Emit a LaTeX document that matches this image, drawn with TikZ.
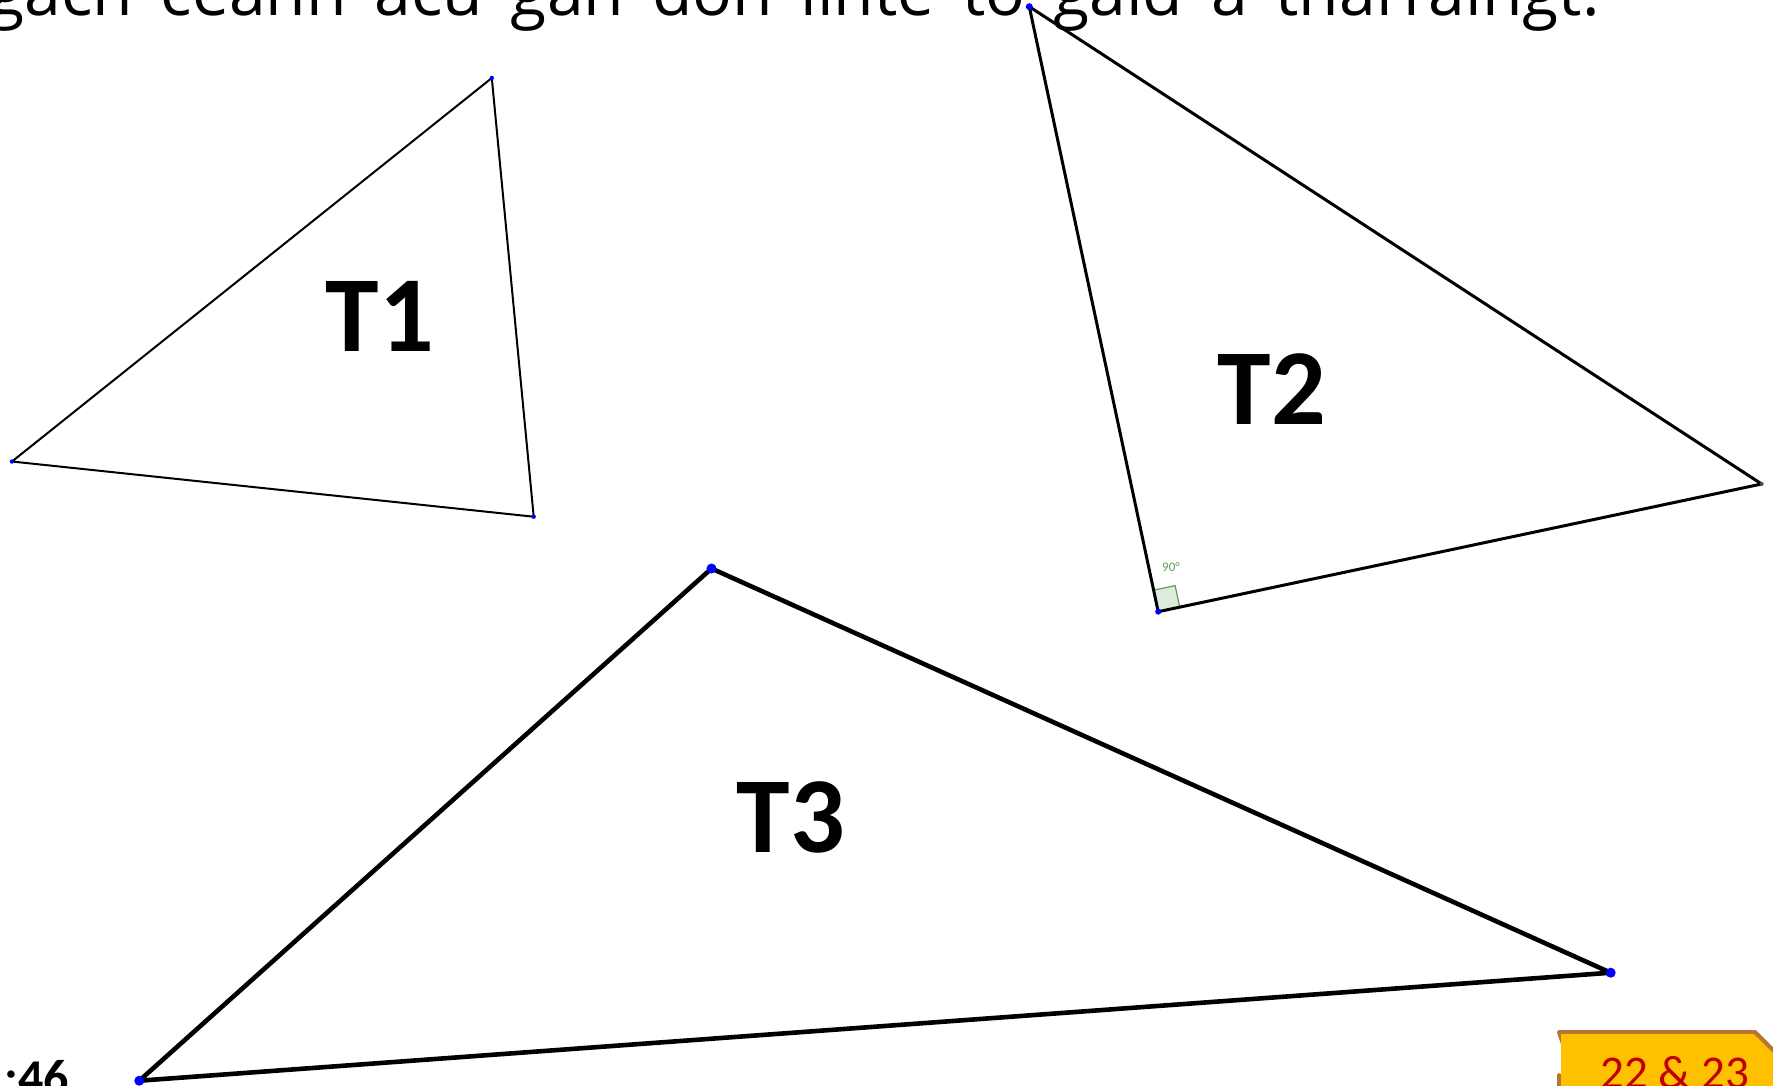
\documentclass[tikz,border=0pt]{standalone}
\usepackage{fontspec}
\setmainfont{Carlito}
\newfontfamily\topfont{Open Sans}
\usetikzlibrary{calc}
\definecolor{vtxblue}{RGB}{0,0,255}
\definecolor{anggreen}{RGB}{90,160,90}
\definecolor{angfill}{RGB}{222,236,222}
\definecolor{badgefill}{RGB}{255,192,0}
\definecolor{badgeedge}{RGB}{185,115,50}
\definecolor{badgetext}{RGB}{192,0,0}
\tikzset{
  tri/.style={draw=black,line join=round},
  vdot/.style={fill=vtxblue},
  tlabel/.style={font=\bfseries\fontsize{108}{108}\selectfont,inner sep=0pt},
}
\begin{document}
\begin{tikzpicture}[x=1pt,y=-1pt]
\useasboundingbox (0,0) rectangle (1773,1085);
\clip (0,0) rectangle (1773,1085);
\fill[white] (0,0) rectangle (1773,1085);
% top text (clipped)
\node[anchor=base west,inner sep=0pt,font=\topfont\fontsize{66}{66}\selectfont] (toptext) at (-12,15) {\spaceskip=0.42em plus 0.1em gach ceann acu gan don línte to gaid a tharraingt.};
% T1
\coordinate (t1a) at (491.8,78);
\coordinate (t1b) at (12,461.5);
\coordinate (t1c) at (533.7,516.7);
\draw[tri,line width=2pt] (t1a) -- (t1b) -- (t1c) -- cycle;
\foreach \p in {t1a,t1b,t1c} \fill[vdot] (\p) circle (2.2);
\node[tlabel,anchor=base] (lab1) at (380,351.6) {T1};
% T2
\coordinate (t2a) at (1029.3,6.7);
\coordinate (t2b) at (1158.2,611.7);
\coordinate (t2c) at (1761.6,484);
\coordinate (sq1) at ($(t2b)!22pt!(t2a)$);
\coordinate (sq3) at ($(t2b)!22pt!(t2c)$);
\coordinate (sq2) at ($(sq1)+(sq3)-(t2b)$);
\filldraw[fill=angfill,draw=anggreen,line width=1.2pt] (t2b) -- (sq1) -- (sq2) -- (sq3) -- cycle;
\node[text=anggreen,font=\fontsize{13}{13}\selectfont,inner sep=0pt] (ang) at (1171,567) {90°};
\draw[tri,line width=3pt] (t2a) -- (t2b) -- (t2c) -- cycle;
\fill[vdot] (t2a) circle (3.5);
\fill[vdot] (t2b) circle (3);
\fill[black!70] (t2c) circle (2);
\node[tlabel,anchor=base] (lab2) at (1272,424) {T2};
% T3
\coordinate (t3a) at (711.5,568.5);
\coordinate (t3b) at (139.3,1080.7);
\coordinate (t3c) at (1610.7,972.7);
\draw[tri,line width=4.6pt] (t3a) -- (t3b) -- (t3c) -- cycle;
\foreach \p in {t3a,t3b,t3c} \fill[vdot] (\p) circle (5);
\node[tlabel,anchor=base] (lab3) at (791,852.6) {T3};
% bottom left time
\node[anchor=base east,inner sep=0pt,font=\bfseries\fontsize{50}{50}\selectfont] (time) at (69,1094) {1:46};
% badge
\filldraw[fill=badgefill,draw=badgeedge,line width=4pt,line join=round]
  (1559,1032) -- (1755,1032) -- (1795,1072) -- (1795,1120) -- (1559,1120) -- (1559,1075) -- (1580,1096) -- cycle;
\fill[badgefill] (1561,1034) -- (1753,1034) -- (1793,1074) -- (1793,1120) -- (1561,1120) -- cycle;
\node[anchor=base west,inner sep=0pt,text=badgetext,font=\fontsize{47}{47}\selectfont] (badge) at (1600,1088) {22 \& 23};
\end{tikzpicture}
\end{document}
